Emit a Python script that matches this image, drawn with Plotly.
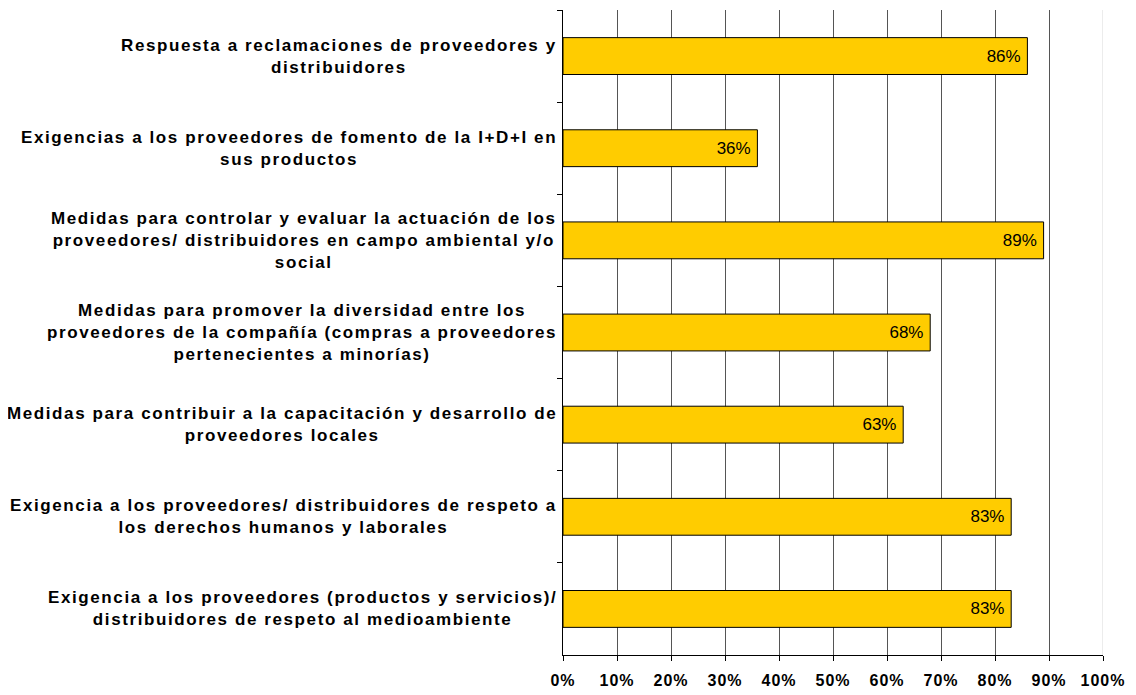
import plotly.graph_objects as go

categories = [
    "Respuesta a reclamaciones de proveedores y<br>distribuidores",
    "Exigencias a los proveedores de fomento de la I+D+I en<br>sus productos",
    "Medidas para controlar y evaluar la actuación de los<br>proveedores/ distribuidores en campo ambiental y/o<br>social",
    "Medidas para promover la diversidad entre los<br>proveedores de la compañía (compras a proveedores<br>pertenecientes a minorías)",
    "Medidas para contribuir a la capacitación y desarrollo de<br>proveedores locales",
    "Exigencia a los proveedores/ distribuidores de respeto a<br>los derechos humanos y laborales",
    "Exigencia a los proveedores (productos y servicios)/<br>distribuidores de respeto al medioambiente",
]
values = [0.86, 0.36, 0.89, 0.68, 0.63, 0.83, 0.83]
value_labels = ["86%", "36%", "89%", "68%", "63%", "83%", "83%"]
tick_vals = [0, 0.1, 0.2, 0.3, 0.4, 0.5, 0.6, 0.7, 0.8, 0.9, 1.0]
tick_text = ["0%", "10%", "20%", "30%", "40%", "50%", "60%", "70%", "80%", "90%", "100%"]

FONT = "Liberation Sans, Arial, sans-serif"


def spaced(s, ls):
    lines = s.split("<br>")
    return "<br>".join(f'<span style="letter-spacing:{ls}px">{ln}</span>' for ln in lines)


fig = go.Figure()
fig.add_trace(go.Bar(
    x=values, y=categories, orientation="h",
    marker=dict(color="#FFCC00", line=dict(color="#000000", width=1)),
    text=[f'{v}<span style="letter-spacing:-1px"> </span>' for v in value_labels],
    textposition="inside", insidetextanchor="end",
    textfont=dict(family=FONT, size=17, color="#000000"),
    cliponaxis=False, hoverinfo="skip",
))

annotations = []
for c in categories:
    annotations.append(dict(
        x=0, xref="paper", y=c, yref="y", text=spaced(c, 1.6), showarrow=False,
        xanchor="right", yanchor="middle", align="center", xshift=-4,
        font=dict(family=FONT, size=17, color="#000000", weight="bold"),
    ))

fig.update_layout(
    width=1128, height=687,
    margin=dict(l=555, r=33, t=2, b=40),
    paper_bgcolor="white", plot_bgcolor="white",
    bargap=0.6, showlegend=False,
    annotations=annotations,
    shapes=[dict(type="line", xref="x", yref="paper", x0=1, x1=1, y0=0, y1=1,
                 line=dict(color="#D9D9D9", width=1), layer="above")],
    xaxis=dict(
        range=[0, 1], tickvals=tick_vals,
        ticktext=[spaced(t, 1) for t in tick_text],
        showgrid=True, gridcolor="#555555", gridwidth=1,
        showline=True, linecolor="#000000", linewidth=1,
        ticks="outside", ticklen=5, tickcolor="#000000", ticklabelstandoff=6,
        tickfont=dict(family=FONT, size=16, color="#000000", weight="bold"),
        zeroline=False, fixedrange=True,
    ),
    yaxis=dict(
        type="category", categoryorder="array", categoryarray=categories,
        autorange="reversed", showticklabels=False,
        showline=True, linecolor="#000000", linewidth=1,
        ticks="outside", ticklen=5, tickcolor="#000000", tickson="boundaries",
        showgrid=False, zeroline=False, fixedrange=True,
    ),
)

fig.write_html("out.html")
